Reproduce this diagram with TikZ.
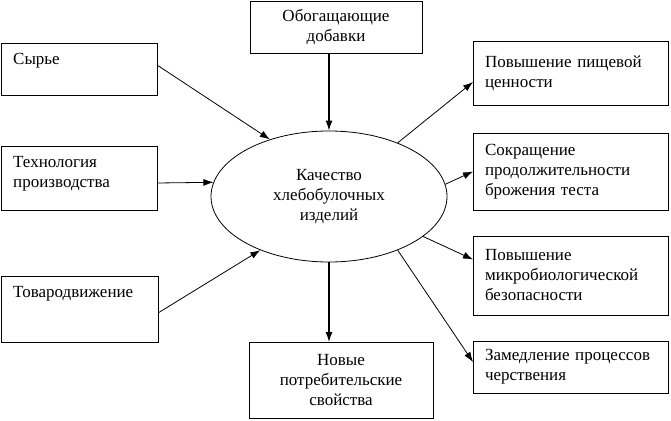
\documentclass[tikz,border=0pt]{standalone}
\usepackage{fontspec}
\setmainfont{Liberation Serif}
\usetikzlibrary{shapes.geometric,arrows.meta}
\hyphenpenalty=10000

\tikzset{
  box/.style={draw, line width=0.9pt, inner sep=0pt, outer sep=0pt},
  inbox/.style={anchor=north west, align=left, inner sep=0pt, xshift=12pt, yshift=-10pt},
  rbox/.style={box, text width=171pt, minimum width=195pt, inner xsep=12pt, align=left},
  arr/.style={-{Latex[length=10pt,width=7pt]}, line width=0.8pt},
}

\begin{document}
\begin{tikzpicture}[x=1pt, y=-1pt, font=\fontsize{17}{20}\selectfont]
        \useasboundingbox (0,0) rectangle (671,420);
        % Factors on the left and on top
        \node[box, minimum width=172pt, minimum height=52pt, align=center] (dob) at (336,27) {Обогащающие\\добавки};
        \node[box, minimum width=156pt, minimum height=52pt, label={[inbox]north west:Сырье}] (syrye) at (79,69) {};
        \node[box, minimum width=156pt, minimum height=64pt, label={[inbox]north west:Технология\\производства}] (tech) at (79,178) {};
        \node[box, minimum width=157pt, minimum height=66pt, label={[inbox]north west:Товародвижение}] (tovar) at (79.5,309) {};
        \node[draw, ellipse, line width=0.8pt, minimum width=236pt, minimum height=131pt, inner sep=0pt, align=center] (kach) at (329,196.5) {Качество\\хлебобулочных\\изделий};
        % Results
        \node[box, minimum width=184pt, minimum height=76pt, align=center] (nov) at (341,380) {Новые\\потребительские\\свойства};
        \node[rbox, minimum height=64pt] (pish) at (570.5,73) {Повышение пищевой\\ценности};
        \node[rbox, minimum height=77pt] (sokr) at (570.5,171.5) {Сокращение\\продолжительности\\брожения теста};
        \node[rbox, minimum height=79pt] (mikro) at (570.5,275.5) {Повышение\\микробиологической\\безопасности};
        \node[rbox, minimum height=52pt] (zam) at (570.5,367) {Замедление процессов\\черствения};

        \draw[arr] ([yshift=4pt]syrye.east) -- (kach.136);
        \draw[arr] ([yshift=-5pt]tech.east) -- (kach.173);
        \draw[arr] ([yshift=-4pt]tovar.east) -- (kach.218);
        \draw[arr, line width=1.2pt] (dob.south -| kach.north) -- (kach.north);
        \draw[arr, line width=1.2pt] (kach.south) -- (kach.south |- nov.north);
        \draw[arr] (kach.38) -- ([yshift=-9pt]pish.west);
        \draw[arr] (kach.6) -- (sokr.west);
        \draw[arr] (kach.-23) -- ([yshift=16pt]mikro.west);
        \draw[arr] (kach.-38) -- ([yshift=5pt]zam.west);
    \end{tikzpicture}
\end{document}
